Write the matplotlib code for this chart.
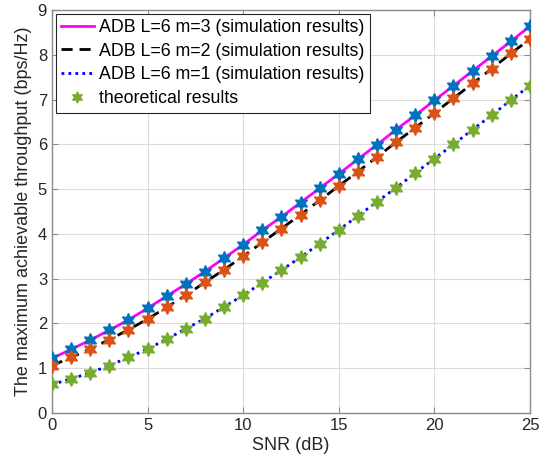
import matplotlib
matplotlib.use("Agg")
import matplotlib.pyplot as plt

snr = list(range(0, 26))
m3 = [1.22, 1.42, 1.63, 1.85, 2.08, 2.34, 2.61, 2.88, 3.16, 3.46, 3.76, 4.08, 4.38,
      4.70, 5.02, 5.34, 5.67, 5.99, 6.33, 6.65, 6.98, 7.31, 7.64, 7.97, 8.30, 8.64]
m2 = [1.06, 1.24, 1.43, 1.64, 1.86, 2.10, 2.36, 2.63, 2.92, 3.20, 3.50, 3.81, 4.12,
      4.43, 4.75, 5.07, 5.39, 5.72, 6.05, 6.37, 6.70, 7.03, 7.36, 7.69, 8.03, 8.35]
m1 = [0.64, 0.76, 0.90, 1.06, 1.24, 1.43, 1.65, 1.88, 2.11, 2.37, 2.63, 2.91, 3.19,
      3.48, 3.78, 4.09, 4.40, 4.72, 5.03, 5.36, 5.68, 6.00, 6.33, 6.65, 6.99, 7.31]

labels = ["ADB L=6 m=3 (simulation results)",
          "ADB L=6 m=2 (simulation results)",
          "ADB L=6 m=1 (simulation results)",
          "theoretical results"]
xticks = [0, 5, 10, 15, 20, 25]
yticks = list(range(0, 10))

plt.rcParams['font.family'] = ['Liberation Sans', 'DejaVu Sans']

fig = plt.figure(figsize=(5.5, 4.66), dpi=100)
ax = fig.add_axes([0.0945, 0.1137, 0.9636 - 0.0945, 0.9785 - 0.1137])

l3, = ax.plot(snr, m3, color='#FF00FF', lw=2.0, ls='-', zorder=2)
l2, = ax.plot(snr, m2, color='black', lw=2.0, ls=(0, (4, 2.5)), zorder=2)
l1, = ax.plot(snr, m1, color='#0000FF', lw=2.0, ls=(0, (1, 1.5)), zorder=2)

hexa = (6, 1, 0)
ax.plot(snr, m3, ls='none', marker=hexa, ms=10, color='#0072BD', zorder=3)
ax.plot(snr, m2, ls='none', marker=hexa, ms=10, color='#D95319', zorder=3)
th, = ax.plot(snr, m1, ls='none', marker=hexa, ms=10, color='#77AC30', zorder=3)

ax.set_xlim(0, 25)
ax.set_ylim(0, 9)
ax.set_xticks(xticks)
ax.set_yticks(yticks)
ax.grid(True, color='#DCDCDC', lw=0.8)
ax.set_axisbelow(True)
for s in ax.spines.values():
    s.set_color('#8C8C8C')
    s.set_linewidth(1.0)
ax.tick_params(direction='in', top=True, right=True, colors='#8C8C8C',
               labelcolor='#262626', labelsize=12, length=4)
ax.set_xlabel('SNR (dB)', fontsize=13, color='#262626', labelpad=3)
ax.set_ylabel('The maximum achievable throughput (bps/Hz)', fontsize=13,
              color='#262626', labelpad=4)

leg = ax.legend([l3, l2, l1, th], labels, loc='upper left', fontsize=12.8,
                frameon=True, fancybox=False, framealpha=1, edgecolor='#262626',
                borderpad=0.3, labelspacing=0.38, handlelength=1.85,
                handletextpad=0.3, borderaxespad=0.2, markerscale=0.8)
leg.get_frame().set_linewidth(0.8)

fig.savefig('out.png', dpi=100)
